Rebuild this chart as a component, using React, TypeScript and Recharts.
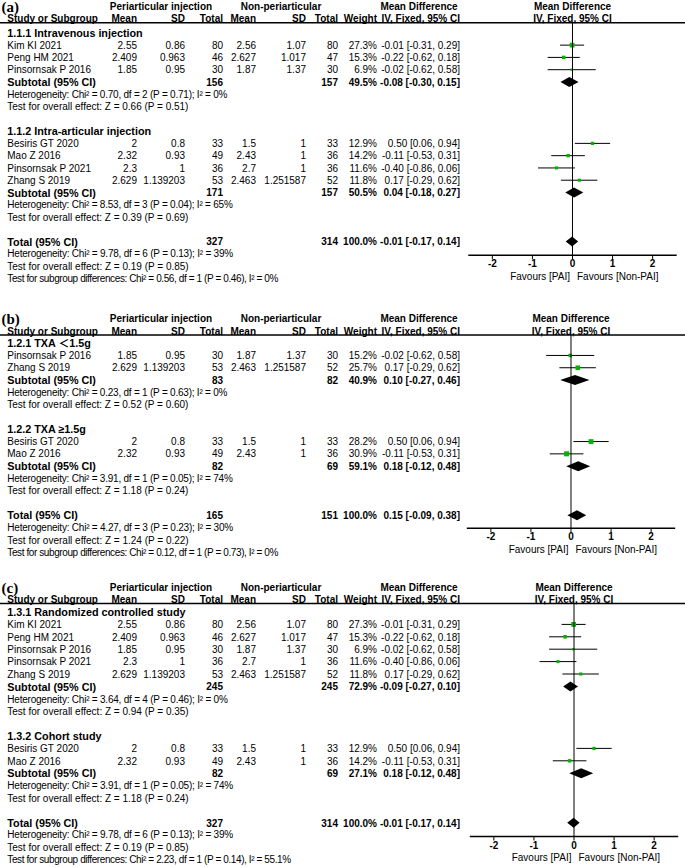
import React from 'react'
import { ComposedChart, Bar, XAxis, YAxis, ReferenceLine } from 'recharts'

document.body.style.margin = '0'

const FONT = '"Liberation Sans", Arial, "Noto Sans CJK SC", sans-serif'
const FS = 10
const FS_BOLD = 10.8
const GREEN = '#00b400'

// study level data (same for every panel)
const studies = ['Kim KI 2021', 'Peng HM 2021', 'Pinsornsak P 2016', 'Besiris GT 2020', 'Mao Z 2016', 'Pinsornsak P 2021', 'Zhang S 2019']
const paiMean = [2.55, 2.409, 1.85, 2, 2.32, 2.3, 2.629]
const paiSd = [0.86, 0.963, 0.95, 0.8, 0.93, 1, 1.139203]
const paiN = [80, 46, 30, 33, 49, 36, 53]
const nonMean = [2.56, 2.627, 1.87, 1.5, 2.43, 2.7, 2.463]
const nonSd = [1.07, 1.017, 1.37, 1, 1, 1, 1.251587]
const nonN = [80, 47, 30, 33, 36, 36, 52]
const md = [-0.01, -0.22, -0.02, 0.5, -0.11, -0.4, 0.17]
const mdLow = [-0.31, -0.62, -0.62, 0.06, -0.53, -0.86, -0.29]
const mdHigh = [0.29, 0.18, 0.58, 0.94, 0.31, 0.06, 0.62]

const xTicks = [-2, -1, 0, 1, 2]

// subgroups: study indexes, weights, pooled result, heterogeneity
const groupsA = [
  { title: '1.1.1 Intravenous injection', idx: [0, 1, 2], w: [27.3, 15.3, 6.9], n1: 156, n2: 157, wt: 49.5, est: -0.08, lo: -0.3, hi: 0.15, chi: '0.70', df: 2, p: '0.71', i2: '0', z: '0.66', pz: '0.51' },
  { title: '1.1.2 Intra-articular injection', idx: [3, 4, 5, 6], w: [12.9, 14.2, 11.6, 11.8], n1: 171, n2: 157, wt: 50.5, est: 0.04, lo: -0.18, hi: 0.27, chi: '8.53', df: 3, p: '0.04', i2: '65', z: '0.39', pz: '0.69' },
]
const totalA = { n1: 327, n2: 314, est: -0.01, lo: -0.17, hi: 0.14, chi: '9.78', df: 6, p: '0.13', i2: '39', z: '0.19', pz: '0.85', sChi: '0.56', sP: '0.46', sI2: '0' }

const groupsB = [
  { title: '1.2.1 TXA ＜1.5g', idx: [2, 6], w: [15.2, 25.7], n1: 83, n2: 82, wt: 40.9, est: 0.1, lo: -0.27, hi: 0.46, chi: '0.23', df: 1, p: '0.63', i2: '0', z: '0.52', pz: '0.60' },
  { title: '1.2.2 TXA ≥1.5g', idx: [3, 4], w: [28.2, 30.9], n1: 82, n2: 69, wt: 59.1, est: 0.18, lo: -0.12, hi: 0.48, chi: '3.91', df: 1, p: '0.05', i2: '74', z: '1.18', pz: '0.24' },
]
const totalB = { n1: 165, n2: 151, est: 0.15, lo: -0.09, hi: 0.38, chi: '4.27', df: 3, p: '0.23', i2: '30', z: '1.24', pz: '0.22', sChi: '0.12', sP: '0.73', sI2: '0' }

const groupsC = [
  { title: '1.3.1 Randomized controlled study', idx: [0, 1, 2, 5, 6], w: [27.3, 15.3, 6.9, 11.6, 11.8], n1: 245, n2: 245, wt: 72.9, est: -0.09, lo: -0.27, hi: 0.1, chi: '3.64', df: 4, p: '0.46', i2: '0', z: '0.94', pz: '0.35' },
  { title: '1.3.2 Cohort study', idx: [3, 4], w: [12.9, 14.2], n1: 82, n2: 69, wt: 27.1, est: 0.18, lo: -0.12, hi: 0.48, chi: '3.91', df: 1, p: '0.05', i2: '74', z: '1.18', pz: '0.24' },
]
const totalC = { n1: 327, n2: 314, est: -0.01, lo: -0.17, hi: 0.14, chi: '9.78', df: 6, p: '0.13', i2: '39', z: '0.19', pz: '0.85', sChi: '2.23', sP: '0.14', sI2: '55.1' }

const panels = [
  { tag: '(a)', dx: 0, line: 22.7, row0: 32.7, rowH: 12.28, axis: 255, groups: groupsA, total: totalA },
  { tag: '(b)', dx: -1.5, line: 335, row0: 343.3, rowH: 12.3, axis: 528.3, groups: groupsB, total: totalB },
  { tag: '(c)', dx: 1.5, line: 603.5, row0: 611.7, rowH: 12.4, axis: 836, groups: groupsC, total: totalC },
]

// right edges of the numeric columns
const colX = [137, 185, 223, 256, 306, 338, 377, 460]

const fmtCI = (e: number, l: number, h: number) => `${e.toFixed(2)} [${l.toFixed(2)}, ${h.toFixed(2)}]`
const hetText = (g: any) => `Heterogeneity: Chi² = ${g.chi}, df = ${g.df} (P = ${g.p}); I² = ${g.i2}%`
const zText = (g: any) => `Test for overall effect: Z = ${g.z} (P = ${g.pz})`

function buildRows(groups: any[], total: any) {
  const rows: any[] = []
  const push = (r: any) => rows.push({ key: `r${rows.length}`, range: null, ...r })
  groups.forEach((g) => {
    push({ kind: 'head', label: g.title })
    g.idx.forEach((s: number, k: number) => {
      push({
        kind: 'study',
        label: studies[s],
        cols: [paiMean[s], paiSd[s], paiN[s], nonMean[s], nonSd[s], nonN[s], `${g.w[k].toFixed(1)}%`, fmtCI(md[s], mdLow[s], mdHigh[s])].map(String),
        range: [mdLow[s], mdHigh[s]],
        est: md[s],
        weight: g.w[k],
      })
    })
    push({
      kind: 'sub',
      label: 'Subtotal (95% CI)',
      cols: ['', '', String(g.n1), '', '', String(g.n2), `${g.wt.toFixed(1)}%`, fmtCI(g.est, g.lo, g.hi)],
      range: [g.lo, g.hi],
      est: g.est,
    })
    push({ kind: 'het', label: hetText(g) })
    push({ kind: 'text', label: zText(g) })
    push({ kind: 'blank', label: '' })
  })
  push({
    kind: 'total',
    label: 'Total (95% CI)',
    cols: ['', '', String(total.n1), '', '', String(total.n2), '100.0%', fmtCI(total.est, total.lo, total.hi)],
    range: [total.lo, total.hi],
    est: total.est,
  })
  return rows
}

const T = (props: any) => (
  <text dominantBaseline="central" fontSize={FS} fontFamily={FONT} fill="#000" {...props} />
)

function RowText({ row, y }: { row: any; y: number }) {
  if (!row) return <g />
  const bold = row.kind === 'head' || row.kind === 'sub' || row.kind === 'total'
  const fw = bold ? 'bold' : 'normal'
  const fs = bold ? FS_BOLD : FS
  return (
    <g>
      <T x={7.3} y={y} fontWeight={fw} fontSize={fs} letterSpacing={row.kind === 'het' ? -0.22 : 0}>
        {row.label}
      </T>
      {row.cols &&
        row.cols.map((c: string, i: number) => (
          <T key={i} x={colX[i]} y={y} textAnchor="end" fontWeight={fw} fontSize={FS}>
            {c}
          </T>
        ))}
    </g>
  )
}

function Mark(props: any) {
  const { x, y, width, height, payload } = props
  if (!payload || !payload.range || !isFinite(x) || !isFinite(width)) return <g />
  const [lo, hi] = payload.range
  const cx = x + (width * (payload.est - lo)) / (hi - lo)
  const cy = y + height / 2
  if (payload.kind === 'study') {
    const s = Math.sqrt(payload.weight) * 0.9
    return (
      <g>
        <line x1={x} x2={x + width} y1={cy} y2={cy} stroke="#000" strokeWidth={1} />
        <rect x={cx - s / 2} y={cy - s / 2} width={s} height={s} fill={GREEN} />
      </g>
    )
  }
  return <polygon points={`${x},${cy} ${cx},${y} ${x + width},${cy} ${cx},${y + height}`} fill="#000" />
}

function Panel({ p }: { p: any }) {
  const rows = buildRows(p.groups, p.total)
  const n = rows.length
  const half = p.rowH / 2
  const padTop = p.row0 - half - p.line
  const padBottom = p.axis - (p.row0 + (n - 1) * p.rowH + half)
  const plotLeft = 468.3 + p.dx
  const plotRight = 676.7 + p.dx
  const zero = 572.5 + p.dx
  const chartH = p.axis - p.line + 30
  const footY = (i: number) => p.row0 + (n + i) * p.rowH
  const t = p.total
  const gh = p.line - 16.3
  const ch = p.line - 4
  return (
    <>
      <div style={{ position: 'absolute', left: 0, top: p.line }}>
        <ComposedChart
          width={685}
          height={chartH}
          data={rows}
          layout="vertical"
          margin={{ top: 0, right: 685 - plotRight, bottom: 0, left: 0 }}
        >
          <XAxis
            type="number"
            domain={[-2.6, 2.6]}
            ticks={xTicks}
            allowDataOverflow
            height={30}
            tickSize={4}
            tickMargin={1}
            axisLine={{ stroke: '#000', strokeWidth: 1.5 }}
            tickLine={{ stroke: '#000' }}
            tick={{ fill: '#000', fontSize: FS, fontWeight: 'bold', fontFamily: FONT }}
          />
          <YAxis
            type="category"
            dataKey="key"
            width={plotLeft}
            padding={{ top: padTop, bottom: padBottom }}
            axisLine={false}
            tickLine={false}
            interval={0}
            tick={(tp: any) => <RowText row={rows.find((r) => r.key === tp.payload.value)} y={tp.y} />}
          />
          <ReferenceLine x={0} stroke="#000" strokeWidth={1} />
          <Bar dataKey="range" barSize={10} shape={<Mark />} isAnimationActive={false} />
        </ComposedChart>
      </div>
      <svg width={685} height={867} style={{ position: 'absolute', left: 0, top: 0, pointerEvents: 'none' }}>
        <text x={1.5} y={p.line - 16} dominantBaseline="central" fontSize={15} fontWeight="bold" fontFamily='"Liberation Serif", "Times New Roman", serif'>
          {p.tag}
        </text>
        <T x={161} y={gh} textAnchor="middle" fontWeight="bold">Periarticular injection</T>
        <T x={281} y={gh} textAnchor="middle" fontWeight="bold">Non-periarticular</T>
        <T x={419} y={gh} textAnchor="middle" fontWeight="bold">Mean Difference</T>
        <T x={zero} y={gh} textAnchor="middle" fontWeight="bold">Mean Difference</T>
        <T x={7.3} y={ch} fontWeight="bold">Study or Subgroup</T>
        {['Mean', 'SD', 'Total', 'Mean', 'SD', 'Total', 'Weight', 'IV, Fixed, 95% CI'].map((h, i) => (
          <T key={i} x={colX[i]} y={ch} textAnchor="end" fontWeight="bold">{h}</T>
        ))}
        <T x={zero} y={ch} textAnchor="middle" fontWeight="bold">IV, Fixed, 95% CI</T>
        <line x1={0} x2={685} y1={p.line} y2={p.line} stroke="#000" strokeWidth={1.5} />
        <T x={7.3} y={footY(0)} letterSpacing={-0.22}>{hetText(t)}</T>
        <T x={7.3} y={footY(1)}>{zText(t)}</T>
        <T x={7.3} y={footY(2)} letterSpacing={-0.4}>
          {`Test for subgroup differences: Chi² = ${t.sChi}, df = 1 (P = ${t.sP}), I² = ${t.sI2}%`}
        </T>
        <T x={zero - 2.5} y={p.axis + 21.5} textAnchor="end">Favours [PAI]</T>
        <T x={zero + 4.5} y={p.axis + 21.5}>Favours [Non-PAI]</T>
      </svg>
    </>
  )
}

export default function App() {
  return (
    <div style={{ position: 'relative', width: 685, height: 867, background: '#fff', overflow: 'hidden' }}>
      {panels.map((p) => (
        <Panel key={p.tag} p={p} />
      ))}
    </div>
  )
}
